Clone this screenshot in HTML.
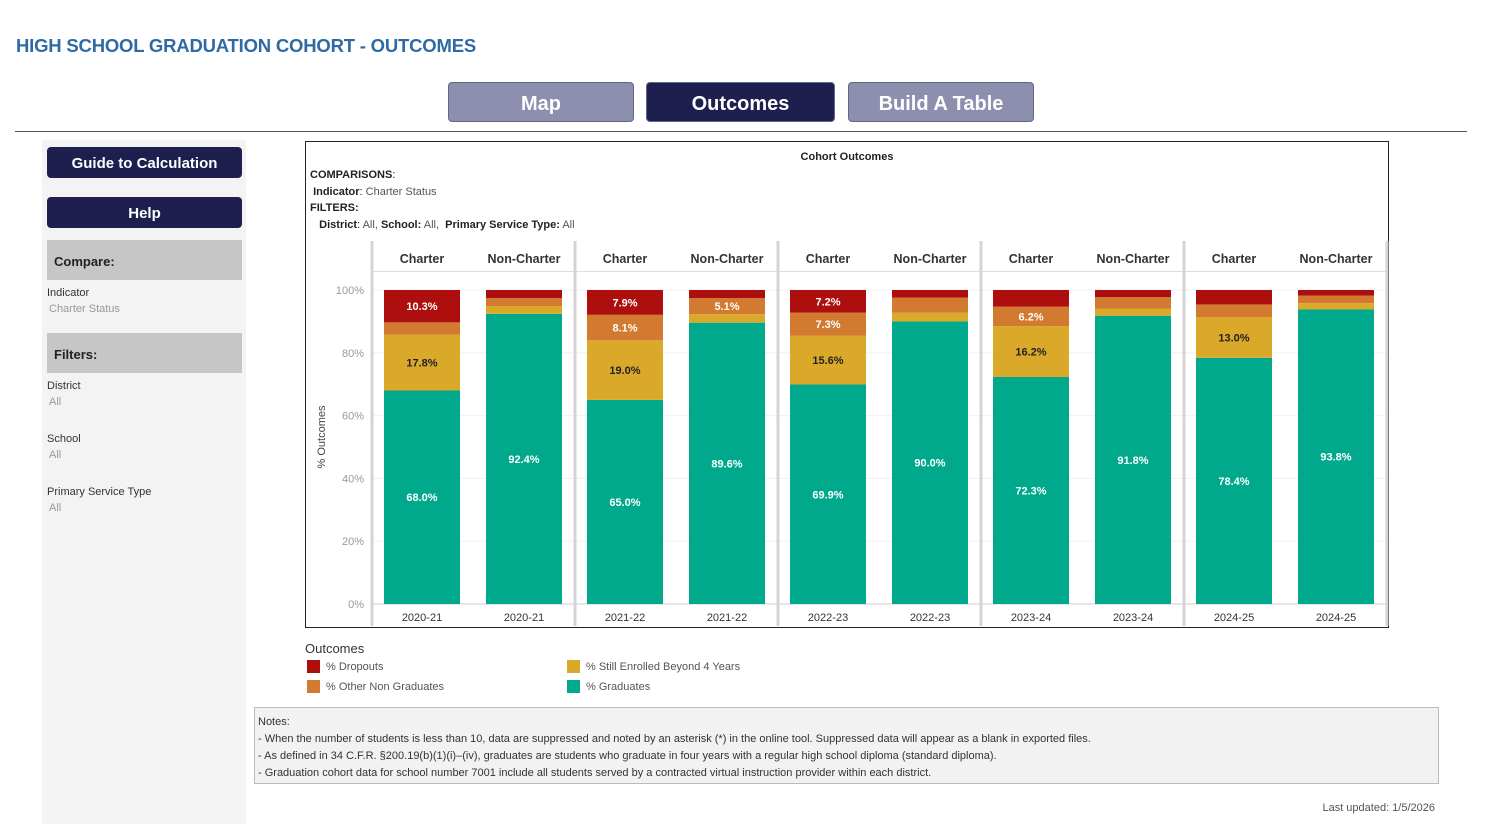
<!DOCTYPE html>
<html><head><meta charset="utf-8"><style>
body{margin:0;width:1490px;height:840px;background:#fff;font-family:"Liberation Sans",sans-serif;position:relative;overflow:hidden}
.abs{position:absolute}
.nav{position:absolute;top:82px;height:38px;border:1px solid #5a6a8a;border-radius:4px;color:#fff;font-weight:bold;font-size:20px;text-align:center;line-height:42px}
.sbtn{position:absolute;left:47px;width:195px;height:31px;background:#1e1f4f;border-radius:4px;color:#fff;font-weight:bold;font-size:15px;text-align:center;line-height:33px}
.sh{position:absolute;left:47px;width:195px;height:40px;background:#c6c6c6;font-weight:bold;font-size:13px;line-height:44px;text-indent:7px;color:#222}
.lab{position:absolute;left:47px;font-size:11px;color:#333}
.val{position:absolute;left:49px;font-size:11px;color:#999}
</style></head><body>
<div class="abs" style="left:16px;top:35px;color:#2f6aa3;font-weight:bold;font-size:18.5px;letter-spacing:-0.2px">HIGH SCHOOL GRADUATION COHORT - OUTCOMES</div>
<div class="nav" style="left:448px;width:184px;background:#8e8eae">Map</div>
<div class="nav" style="left:646px;width:187px;background:#1e1f4f">Outcomes</div>
<div class="nav" style="left:848px;width:184px;background:#8e8eae">Build A Table</div>
<div class="abs" style="left:15px;top:131px;width:1452px;height:1px;background:#555"></div>

<div class="abs" style="left:42px;top:140px;width:204px;height:684px;background:#f3f3f3"></div>
<div class="sbtn" style="top:147px">Guide to Calculation</div>
<div class="sbtn" style="top:197px">Help</div>
<div class="sh" style="top:240px">Compare:</div>
<div class="lab" style="top:287px">Indicator</div>
<div class="val" style="top:303px">Charter Status</div>
<div class="sh" style="top:333px">Filters:</div>
<div class="lab" style="top:380px">District</div>
<div class="val" style="top:396px">All</div>
<div class="lab" style="top:433px">School</div>
<div class="val" style="top:449px">All</div>
<div class="lab" style="top:486px">Primary Service Type</div>
<div class="val" style="top:502px">All</div>

<div class="abs" style="left:305px;top:141px;width:1082px;height:485px;border:1px solid #222"></div>
<div class="abs" style="left:305px;top:151px;width:1084px;text-align:center;font-size:11px;font-weight:bold;color:#222">Cohort Outcomes</div>
<div class="abs" style="left:310px;top:167px;font-size:11px;line-height:16.5px;color:#222">
<b>COMPARISONS</b>:<br>&nbsp;<b>Indicator</b>: <span style="color:#555">Charter Status</span><br><b>FILTERS:</b><br>&nbsp;&nbsp;&nbsp;<b>District</b>: <span style="color:#555">All,</span> <b>School:</b> <span style="color:#555">All,</span> &nbsp;<b>Primary Service Type:</b> <span style="color:#555">All</span></div>

<svg class="abs" style="left:0;top:0" width="1490" height="840">
<g id="chart"></g>
</svg>

<div class="abs" style="left:305px;top:641px;font-size:13px;color:#333">Outcomes</div>
<div class="abs" style="left:307px;top:660px;font-size:11px;color:#555"><span style="display:inline-block;width:13px;height:13px;background:#ad0e0e;vertical-align:-3px;margin-right:6px"></span>% Dropouts</div>
<div class="abs" style="left:307px;top:680px;font-size:11px;color:#555"><span style="display:inline-block;width:13px;height:13px;background:#d17a30;vertical-align:-3px;margin-right:6px"></span>% Other Non Graduates</div>
<div class="abs" style="left:567px;top:660px;font-size:11px;color:#555"><span style="display:inline-block;width:13px;height:13px;background:#daa929;vertical-align:-3px;margin-right:6px"></span>% Still Enrolled Beyond 4 Years</div>
<div class="abs" style="left:567px;top:680px;font-size:11px;color:#555"><span style="display:inline-block;width:13px;height:13px;background:#00a98b;vertical-align:-3px;margin-right:6px"></span>% Graduates</div>

<div class="abs" style="left:254px;top:707px;width:1185px;height:77px;background:#f2f2f2;border:1px solid #bbb;font-size:11px;color:#333;line-height:17px;padding:6px 0 0 3px;box-sizing:border-box">
Notes:<br>- When the number of students is less than 10, data are suppressed and noted by an asterisk (*) in the online tool. Suppressed data will appear as a blank in exported files.<br>- As defined in 34 C.F.R. §200.19(b)(1)(i)–(iv), graduates are students who graduate in four years with a regular high school diploma (standard diploma).<br>- Graduation cohort data for school number 7001 include all students served by a contracted virtual instruction provider within each district.</div>
<div class="abs" style="left:1300px;top:802px;width:135px;text-align:right;font-size:11px;color:#555">Last updated: 1/5/2026</div>

<script>
const years = ["2020-21","2021-22","2022-23","2023-24","2024-25"];
const groups = ["Charter","Non-Charter"];
// order: Charter, Non-Charter per year
const graduates = [68.0,92.4,65.0,89.6,69.9,90.0,72.3,91.8,78.4,93.8];
const stillEnrolled = [17.8,2.5,19.0,2.7,15.6,2.8,16.2,2.3,13.0,2.0];
const otherNonGrad = [3.9,2.5,8.1,5.1,7.3,4.8,6.2,3.6,4.0,2.4];
const dropouts = [10.3,2.6,7.9,2.6,7.2,2.4,5.3,2.3,4.6,1.8];
const showGrad = [1,1,1,1,1,1,1,1,1,1];
const showStill = [1,0,1,0,1,0,1,0,1,0];
const showOther = [0,0,1,1,1,0,1,0,0,0];
const showDrop = [1,0,1,0,1,0,0,0,0,0];
const yTicks = [0,20,40,60,80,100];

const NS="http://www.w3.org/2000/svg";
const g=document.getElementById('chart');
const y0=604, yH=314, panelX0=372, panelW=203, barW=76;
const yS=v=>y0-v/100*yH;
const xC=i=>panelX0+Math.floor(i/2)*panelW+(i%2?152:50);
function mk(tag,attrs,parent){const e=document.createElementNS(NS,tag);for(const k in attrs)e.setAttribute(k,attrs[k]);(parent||g).appendChild(e);return e;}

yTicks.forEach(t=>{
  const l=mk('line',{x1:panelX0,x2:1386,y1:yS(t),y2:yS(t),stroke:t===0?'#ccc':'#f0f0f0','stroke-width':1});
  
  
  const tx=mk('text',{x:364,y:yS(t)+4,'text-anchor':'end','font-size':11,fill:'#999'});
  tx.textContent=t+'%';
  
  
});
const yt=mk('text',{x:0,y:0,transform:'translate(325,437) rotate(-90)','text-anchor':'middle','font-size':11,fill:'#444'});
yt.textContent='% Outcomes';


const hl=mk('line',{x1:panelX0,x2:1386,y1:271.5,y2:271.5,stroke:'#ddd'});


for(let p=0;p<=years.length;p++){
  const s=mk('line',{x1:panelX0+p*panelW,x2:panelX0+p*panelW,y1:241,y2:626,stroke:'#d4d4d4','stroke-width':3});
  
  
}
const series=[[graduates,'#00a98b',showGrad,'graduates'],[stillEnrolled,'#daa929',showStill,'still-enrolled'],[otherNonGrad,'#d17a30',showOther,'other-non-grad'],[dropouts,'#ad0e0e',showDrop,'dropouts']];
for(let i=0;i<graduates.length;i++){
  const cx=xC(i);
  const h=mk('text',{x:cx,y:263,'text-anchor':'middle','font-size':12.5,'font-weight':'bold',fill:'#333'});
  h.textContent=groups[i%2];
  
  
  const c=mk('text',{x:cx,y:621,'text-anchor':'middle','font-size':11,fill:'#333'});
  c.textContent=years[Math.floor(i/2)];
  
  
  let cum=0;
  series.forEach(([arr,col,show,nm])=>{
    const v=arr[i];const top=Math.max(cum+v,0);
    const yTop=yS(Math.min(top,100)),yBot=yS(cum);
    const r=mk('rect',{x:cx-barW/2,y:yTop,width:barW,height:Math.max(yBot-yTop,0),fill:col});
    
    
    if(show[i]){
      const t=mk('text',{x:cx,y:(yTop+yBot)/2+4,'text-anchor':'middle','font-size':11,'font-weight':'bold',fill:nm==='still-enrolled'?'#222':'#fff'});
      t.textContent=v.toFixed(1)+'%';
      
      
    }
    cum+=v;
  });
}
</script>
</body></html>
